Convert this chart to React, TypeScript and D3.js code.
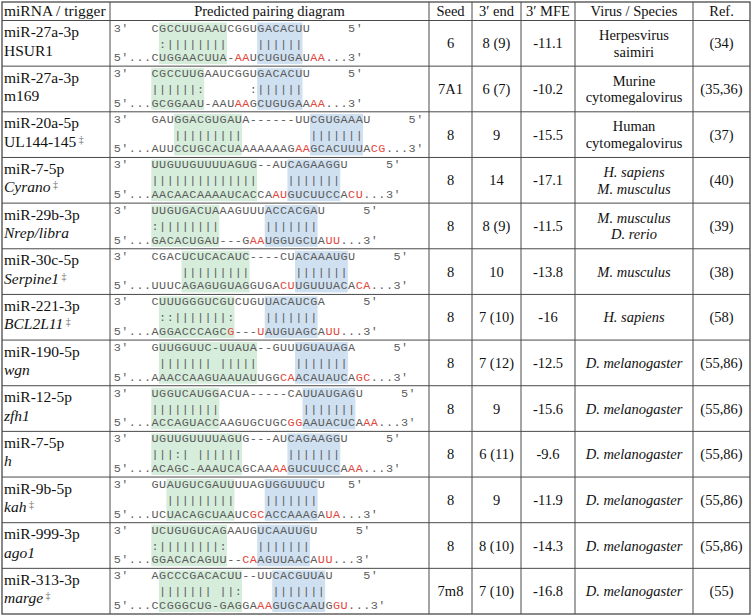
import React from "react";
import * as d3 from "d3";

const mirnas = ["miR-27a-3p","miR-27a-3p","miR-20a-5p","miR-7-5p","miR-29b-3p","miR-30c-5p","miR-221-3p","miR-190-5p","miR-12-5p","miR-7-5p","miR-9b-5p","miR-999-3p","miR-313-3p"];
const triggers = ["HSUR1","m169","UL144-145","Cyrano","Nrep/libra","Serpine1","BCL2L11","wgn","zfh1","h","kah","ago1","marge"];
const triggerItalic = [false,false,false,true,true,true,true,true,true,true,true,true,true];
const triggerDagger = [false,false,true,true,false,true,true,false,false,false,true,false,true];

// miRNA strand (3' -> 5'), starting at column 5
const mirnaSeqs = [
  "CGCCUUGAAUCGGUGACACUU",
  "CGCCUUGAAUCGGUGACACUU",
  "GAUGGACGUGAUA------UUCGUGAAAU",
  "UUGUUGUUUUAGUG--AUCAGAAGGU",
  "UUGUGACUAAAGUUUACCACGAU",
  "CGACUCUCACAUC----CUACAAAUGU",
  "CUUUGGGUCGUCUGUUACAUCGA",
  "GUUGGUUC-UUAUA--GUUUGUAUAGA",
  "UGGUCAUGGACUA-----CAUUAUGAGU",
  "UGUUGUUUUAGUG---AUCAGAAGGU",
  "GUAUGUCGAUUUUAGUGGUUUCU",
  "UCUGUGUCAGAAUGUCAAUUGU",
  "AGCCCGACACUU--UUCACGUUAU",
];
const mirna5Col = [31,31,39,36,33,37,33,37,38,36,31,32,33];
const pairLines = [
  " :||||||||    ||||||",
  "||||||:      :||||||",
  "   |||||||||         |||||||",
  "||||||||||||||    |||||||",
  ":||||||||      |||||||",
  "    |||||||||      |||||||",
  " ::|||||||:    |||||||",
  " ||||||| |||||     |||||||",
  "|||||||||           |||||||",
  "|||:| ||||||      |||||||",
  "  |||||||||    |||||||",
  ":||||||||:    |||||||",
  " ||||||| ||:    |||||||",
];
// target strand (5' -> 3'), starting at column 5
const targetSeqs = [
  "CUGGAACUUA-AAUCUGUGAUAA",
  "GCGGAAU-AAUAAGCUGUGAAAA",
  "AUUCCUGCACUAAAAAAAGAAGCACUUUACG",
  "AACAACAAAAUCACCAAUGUCUUCCACU",
  "GACACUGAU---GAAUGGUGCUAUU",
  "UUUCAGAGUGUAGGUGACUUGUUUACACA",
  "AGGACCCAGCG---UAUGUAGCAUU",
  "AAACCAAGUAAUAUUGGCAACAUAUCAGC",
  "ACCAGUACCAAGUGCUGCGGAAUACUCAAA",
  "ACAGC-AAAUCAGCAAAAGUCUUCCAAA",
  "UCUACAGCUAAUCGCACCAAAGAUA",
  "GGACACAGUU--CAAGUUAACAUU",
  "CCGGGCUG-GAGGAAAGUGCAAUGGU",
];
const redCols = [
  [16,17,26,27],[16,17,26,27],[24,25,34,35],[21,22,31,32],[18,19,28,29],
  [22,23,32,33],[15,19,28,29],[22,23,32,33],[23,24,33,34],[21,22,31,32],
  [18,19,28,29],[17,18,27,28],[19,20,29,30],
];
const greenSpans = [[6,14],[5,11],[8,16],[5,18],[5,13],[9,17],[6,15],[6,18],[5,13],[5,16],[7,15],[5,14],[6,16]];
const blueSpans = [[19,24],[19,24],[26,32],[23,29],[20,26],[24,30],[20,26],[24,30],[25,31],[23,29],[20,26],[19,25],[21,27]];

const seeds = ["6","7A1","8","8","8","8","8","8","8","8","8","8","7m8"];
const threeEnds = ["8 (9)","6 (7)","9","14","8 (9)","10","7 (10)","7 (12)","9","6 (11)","9","8 (10)","7 (10)"];
const mfes = ["-11.1","-10.2","-15.5","-17.1","-11.5","-13.8","-16","-12.5","-15.6","-9.6","-11.9","-14.3","-16.8"];
const species = [
  ["Herpesvirus","saimiri"],["Murine","cytomegalovirus"],["Human","cytomegalovirus"],
  ["H. sapiens","M. musculus"],["M. musculus","D. rerio"],["M. musculus"],["H. sapiens"],
  ["D. melanogaster"],["D. melanogaster"],["D. melanogaster"],["D. melanogaster"],["D. melanogaster"],["D. melanogaster"],
];
const speciesItalic = [false,false,false,true,true,true,true,true,true,true,true,true,true];
const refs = ["(34)","(35,36)","(37)","(40)","(39)","(38)","(58)","(55,86)","(55,86)","(55,86)","(55,86)","(55,86)","(55)"];
const headers = ["miRNA / trigger","Predicted pairing diagram","Seed","3\u2032 end","3\u2032 MFE","Virus / Species","Ref."];

const W = 752, H = 616;
const colEdges = [2, 110, 429, 472, 521, 575, 693, 750];
const headerTop = 2, headerBottom = 20.5, tableBottom = 614;
const serif = "'Liberation Serif', 'Times New Roman', serif";
const mono = "'Liberation Mono', 'Courier New', monospace";
const GREY = "#5c5c5c";
const RED = "#e2473c";
const GREEN = "#d5edda";
const BLUE = "#cfe0f1";
const INK = "#111";

type Ch = { col: number; ch: string; color: string };

export default function App() {
  const rowIdx = d3.range(mirnas.length);
  const y = d3.scaleBand<number>().domain(rowIdx).range([headerBottom, tableBottom]);
  const cw = 7.56;
  const cx = d3.scaleLinear().domain([0, 1]).range([113.5, 113.5 + cw]);
  const rh = y.bandwidth();

  const lineChars = (r: number) => {
    const top: Ch[] = [];
    const mid: Ch[] = [];
    const bot: Ch[] = [];
    top.push({ col: 0, ch: "3", color: GREY }, { col: 1, ch: "\u2032", color: GREY });
    mirnaSeqs[r].split("").forEach((c, i) => top.push({ col: 5 + i, ch: c, color: GREY }));
    top.push({ col: mirna5Col[r], ch: "5", color: GREY }, { col: mirna5Col[r] + 1, ch: "\u2032", color: GREY });
    pairLines[r].split("").forEach((c, i) => { if (c !== " ") mid.push({ col: 5 + i, ch: c, color: GREY }); });
    "5\u2032...".split("").forEach((c, i) => bot.push({ col: i, ch: c, color: GREY }));
    const seq = targetSeqs[r];
    seq.split("").forEach((c, i) => bot.push({ col: 5 + i, ch: c, color: redCols[r].includes(5 + i) ? RED : GREY }));
    "...3\u2032".split("").forEach((c, i) => bot.push({ col: 5 + seq.length + i, ch: c, color: GREY }));
    return [top, mid, bot];
  };

  const lineOffsets = [11, 27, 40.5];
  const dataSize = 14.5;

  return (
    <svg width={W} height={H} style={{ position: "absolute", left: 0, top: 0, background: "#fff" }}>
      <rect x={0} y={0} width={W} height={H} fill="#fff" />
      {rowIdx.map((r) => {
        const t = y(r)!;
        return (
          <g key={"hl" + r}>
            <rect x={cx(greenSpans[r][0])} y={t + 2} width={cx(greenSpans[r][1] + 1) - cx(greenSpans[r][0])} height={rh - 4} fill={GREEN} />
            <rect x={cx(blueSpans[r][0])} y={t + 2} width={cx(blueSpans[r][1] + 1) - cx(blueSpans[r][0])} height={rh - 4} fill={BLUE} />
          </g>
        );
      })}
      <g stroke="#4a4a4a" strokeWidth={1}>
        {rowIdx.slice(1).map((r) => (
          <line key={"h" + r} x1={colEdges[0]} x2={colEdges[colEdges.length - 1]} y1={y(r)!} y2={y(r)!} />
        ))}
        <line x1={colEdges[0]} x2={colEdges[colEdges.length - 1]} y1={headerBottom} y2={headerBottom} />
        {colEdges.slice(1, -1).map((x, i) => (
          <line key={"v" + i} x1={x} x2={x} y1={headerTop} y2={tableBottom} />
        ))}
        <rect x={colEdges[0]} y={headerTop} width={colEdges[colEdges.length - 1] - colEdges[0]} height={tableBottom - headerTop} fill="none" strokeWidth={1.3} />
      </g>
      {headers.map((h, i) => (
        i === 0 ? (
          <text key={"hd" + i} x={4} y={16} fontFamily={serif} fontSize={15.5} fill={INK}>{h}</text>
        ) : (
          <text key={"hd" + i} x={(colEdges[i] + colEdges[i + 1]) / 2} y={16} textAnchor="middle" fontFamily={serif} fontSize={dataSize} fill={INK}>{h}</text>
        )
      ))}
      {rowIdx.map((r) => {
        const t = y(r)!;
        const c = t + rh / 2;
        const lines = lineChars(r);
        const sp = species[r];
        return (
          <g key={"row" + r}>
            <text x={4} y={t + 16.5} fontFamily={serif} fontSize={15.5} fill={INK}>{mirnas[r]}</text>
            <text x={4} y={t + 35} fontFamily={serif} fontSize={15.5} fill={INK} fontStyle={triggerItalic[r] ? "italic" : "normal"}>
              {triggers[r]}
              {triggerDagger[r] ? <tspan fontStyle="normal" fontSize={10} dy={-4} fill="#666">{" \u2021"}</tspan> : null}
            </text>
            {lines.map((ln, li) => (
              <g key={"ln" + li}>
                {ln.map((ch, k) => (
                  <text key={k} x={cx(ch.col + 0.5)} y={t + lineOffsets[li]} textAnchor="middle" fontFamily={mono} fontSize={11.8} fill={ch.color}>{ch.ch}</text>
                ))}
              </g>
            ))}
            <text x={(colEdges[2] + colEdges[3]) / 2} y={c + 5} textAnchor="middle" fontFamily={serif} fontSize={dataSize} fill={INK}>{seeds[r]}</text>
            <text x={(colEdges[3] + colEdges[4]) / 2} y={c + 5} textAnchor="middle" fontFamily={serif} fontSize={dataSize} fill={INK}>{threeEnds[r]}</text>
            <text x={(colEdges[4] + colEdges[5]) / 2} y={c + 5} textAnchor="middle" fontFamily={serif} fontSize={dataSize} fill={INK}>{mfes[r]}</text>
            {sp.map((s, si) => (
              <text key={"sp" + si} x={(colEdges[5] + colEdges[6]) / 2} y={c + 5 + (si - (sp.length - 1) / 2) * 16.5} textAnchor="middle" fontFamily={serif} fontSize={dataSize} fill={INK} fontStyle={speciesItalic[r] ? "italic" : "normal"}>{s}</text>
            ))}
            <text x={(colEdges[6] + colEdges[7]) / 2} y={c + 5} textAnchor="middle" fontFamily={serif} fontSize={dataSize} fill={INK}>{refs[r]}</text>
          </g>
        );
      })}
    </svg>
  );
}
